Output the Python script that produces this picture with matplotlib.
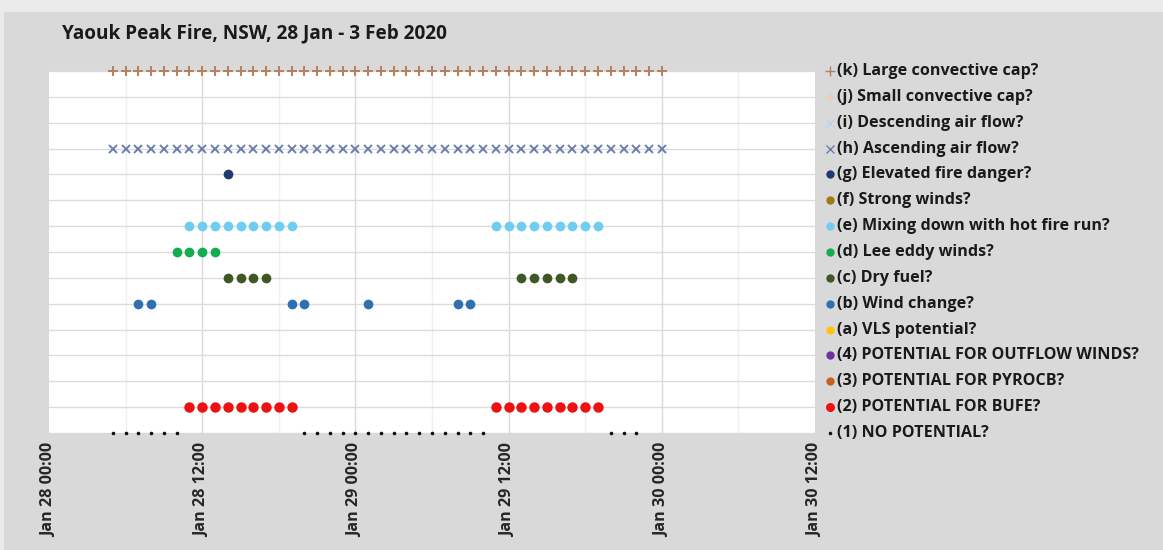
import matplotlib
matplotlib.use("Agg")
import matplotlib.pyplot as plt
from matplotlib.patches import Rectangle

plt.rcParams['font.family'] = ['Open Sans', 'DejaVu Sans']

# ---- data: hours after Jan 28 00:00 ----
tick_hours = [0, 12, 24, 36, 48, 60]
tick_labels = ["Jan 28 00:00", "Jan 28 12:00", "Jan 29 00:00",
               "Jan 29 12:00", "Jan 30 00:00", "Jan 30 12:00"]

k_large_cap = [5, 6, 7, 8, 9, 10, 11, 12, 13, 14, 15, 16, 17, 18, 19, 20, 21, 22,
               23, 24, 25, 26, 27, 28, 29, 30, 31, 32, 33, 34, 35, 36, 37, 38, 39,
               40, 41, 42, 43, 44, 45, 46, 47, 48]
j_small_cap = []
i_descending = []
h_ascending = [5, 6, 7, 8, 9, 10, 11, 12, 13, 14, 15, 16, 17, 18, 19, 20, 21, 22,
               23, 24, 25, 26, 27, 28, 29, 30, 31, 32, 33, 34, 35, 36, 37, 38, 39,
               40, 41, 42, 43, 44, 45, 46, 47, 48]
g_elevated = [14]
f_strong_winds = []
e_mixing = [11, 12, 13, 14, 15, 16, 17, 18, 19, 35, 36, 37, 38, 39, 40, 41, 42, 43]
d_lee_eddy = [10, 11, 12, 13]
c_dry_fuel = [14, 15, 16, 17, 37, 38, 39, 40, 41]
b_wind_change = [7, 8, 19, 20, 25, 32, 33]
a_vls = []
p4_outflow = []
p3_pyrocb = []
p2_bufe = [11, 12, 13, 14, 15, 16, 17, 18, 19, 35, 36, 37, 38, 39, 40, 41, 42, 43]
p1_none = [5, 6, 7, 8, 9, 10, 20, 21, 22, 23, 24, 25, 26, 27, 28, 29, 30, 31, 32,
           33, 34, 44, 45, 46]

labels = ["(k) Large convective cap?", "(j) Small convective cap?",
          "(i) Descending air flow?", "(h) Ascending air flow?",
          "(g) Elevated fire danger?", "(f) Strong winds?",
          "(e) Mixing down with hot fire run?", "(d) Lee eddy winds?",
          "(c) Dry fuel?", "(b) Wind change?", "(a) VLS potential?",
          "(4) POTENTIAL FOR OUTFLOW WINDS?", "(3) POTENTIAL FOR PYROCB?",
          "(2) POTENTIAL FOR BUFE?", "(1) NO POTENTIAL?"]
series = [k_large_cap, j_small_cap, i_descending, h_ascending, g_elevated,
          f_strong_winds, e_mixing, d_lee_eddy, c_dry_fuel, b_wind_change, a_vls,
          p4_outflow, p3_pyrocb, p2_bufe, p1_none]
row_levels = [15, 14, 13, 12, 11, 10, 9, 8, 7, 6, 5, 4, 3, 2, 1]

# styles (marker, color, size)
styles = [('+', '#b5805e', 7), ('+', '#f4c9a8', 7), ('x', '#bcd3ea', 6),
          ('x', '#6a80ad', 6), ('o', '#1f3a70', 7), ('o', '#9c7a17', 7),
          ('o', '#6fcdf2', 7), ('o', '#12ad4e', 7), ('o', '#3f5727', 7),
          ('o', '#2f70b2', 7), ('o', '#ffc40c', 7), ('o', '#7030a0', 7),
          ('o', '#c5641f', 7), ('o', '#ee1111', 7.5), ('o', '#111111', 2.6)]

W, H = 1163, 550
fig = plt.figure(figsize=(W / 100, H / 100), dpi=100)
fig.patch.set_facecolor('#ebebeb')
fig.add_artist(Rectangle((4 / W, 0), 1, 1 - 12 / H, transform=fig.transFigure,
                         facecolor='#d9d9d9', edgecolor='none', zorder=0))

left, right, top, bottom = 49, 815, 71, 433
ax = fig.add_axes([left / W, 1 - bottom / H, (right - left) / W, (bottom - top) / H])
ax.set_facecolor('white')
ax.set_xlim(0, 60)
ax.set_ylim(1, 15)

for h6 in [6, 18, 30, 42, 54]:
    ax.axvline(h6, color='#f0f0f0', lw=1, zorder=1)
for h12 in tick_hours[1:-1]:
    ax.axvline(h12, color='#dadada', lw=1, zorder=1)
for lev in row_levels:
    ax.axhline(lev, color='#dcdcdc', lw=1, zorder=1)

for xs, lev, (m, c, s) in zip(series, row_levels, styles):
    if not xs:
        continue
    mew = 1.4 if m in '+x' else 0
    ax.plot(xs, [lev] * len(xs), linestyle='none', marker=m, color=c,
            markersize=s, markeredgewidth=mew, clip_on=False, zorder=3)

ax.set_yticks([])
ax.set_xticks(tick_hours)
ax.set_xticklabels(tick_labels, rotation=90, fontsize=11.6, fontweight='bold',
                   color='#262626')
ax.tick_params(axis='x', length=0, pad=7)
for sp in ax.spines.values():
    sp.set_visible(False)

# legend drawn in an aligned axis
lax = fig.add_axes([right / W, 1 - bottom / H, (W - right) / W, (bottom - top) / H])
lax.set_xlim(right, W)
lax.set_ylim(1, 15)
lax.axis('off')
for lab, lev, (m, c, s) in zip(labels, row_levels, styles):
    mew = 1.0 if m in '+x' else 0
    ms = s if m in '+x' else (s - 1 if s > 3 else s)
    lax.plot([830], [lev], linestyle='none', marker=m, color=c, markersize=ms,
             markeredgewidth=mew, clip_on=False)
    lax.text(837, lev, lab, fontsize=11.6, fontweight='bold', color='#1a1a1a',
             va='center', ha='left')

fig.text(62 / W, 1 - 33 / H, "Yaouk Peak Fire, NSW, 28 Jan - 3 Feb 2020",
         fontsize=13.7, fontweight='bold', color='#1a1a1a', va='center', ha='left')

fig.savefig('out.png', dpi=100, facecolor=fig.get_facecolor())
